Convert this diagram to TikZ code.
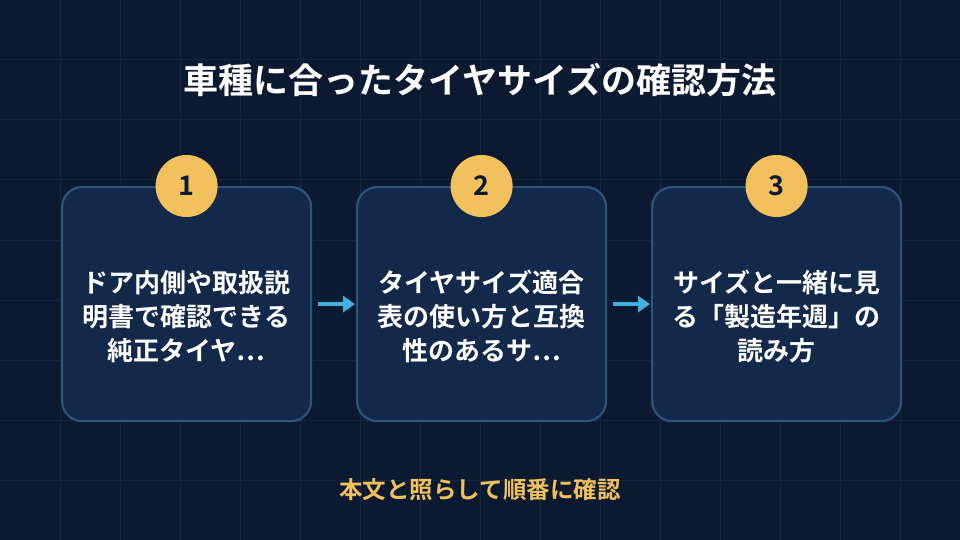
\documentclass[tikz,border=0pt]{standalone}
\usepackage{fontspec}
\setmainfont{Noto Sans CJK JP}[BoldFont={* Bold}]
\usetikzlibrary{arrows.meta}
\definecolor{bg}{HTML}{0B1A30}
\definecolor{gridc}{HTML}{13263F}
\definecolor{boxf}{HTML}{12294A}
\definecolor{boxd}{HTML}{2F5478}
\definecolor{gold}{HTML}{F2C15E}
\definecolor{arr}{HTML}{3FB0E0}
\begin{document}
\begin{tikzpicture}[x=1pt,y=-1pt,
  box/.style={draw=boxd,line width=2.2pt,fill=boxf,rounded corners=20pt,minimum width=249pt,minimum height=234pt,anchor=north west},
  txt/.style={text=white,font=\bfseries\fontsize{26}{34}\selectfont,align=center,text width=240pt},
  num/.style={circle,fill=gold,minimum size=62pt,inner sep=0pt,font=\bfseries\fontsize{27}{27}\selectfont,text=bg},
  ar/.style={draw=arr,line width=4pt,-{Triangle[length=12pt,width=16pt]}}]
\fill[bg] (0,0) rectangle (960,540);
\useasboundingbox (0,0) rectangle (960,540);
\foreach \i in {60,120,...,900} \draw[gridc,line width=1pt] (\i,0) -- (\i,540);
\foreach \i in {60,120,...,480} \draw[gridc,line width=1pt] (0,\i) -- (960,\i);
\node[text=white,font=\bfseries\fontsize{35}{35}\selectfont] (title) at (480,80) {車種に合ったタイヤサイズの確認方法};
\node[box] (b1) at (61,186) {};
\node[box] (b2) at (356,186) {};
\node[box] (b3) at (651,186) {};
\node[txt] at ([yshift=-12pt]b1.center) {ドア内側や取扱説\\明書で確認できる\\純正タイヤ…};
\node[txt] at ([yshift=-12pt]b2.center) {タイヤサイズ適合\\表の使い方と互換\\性のあるサ…};
\node[txt] at ([yshift=-12pt]b3.center) {サイズと一緒に見\\る「製造年週」の\\読み方};
\node[num] (n1) at (b1.north) {1};
\node[num] (n2) at (b2.north) {2};
\node[num] (n3) at (b3.north) {3};
\draw[ar] ([xshift=6pt]b1.east) -- ([xshift=-1pt]b2.west);
\draw[ar] ([xshift=6pt]b2.east) -- ([xshift=-1pt]b3.west);
\node[text=gold,font=\bfseries\fontsize{23.5}{23.5}\selectfont] (foot) at (480,490) {本文と照らして順番に確認};
\end{tikzpicture}
\end{document}
